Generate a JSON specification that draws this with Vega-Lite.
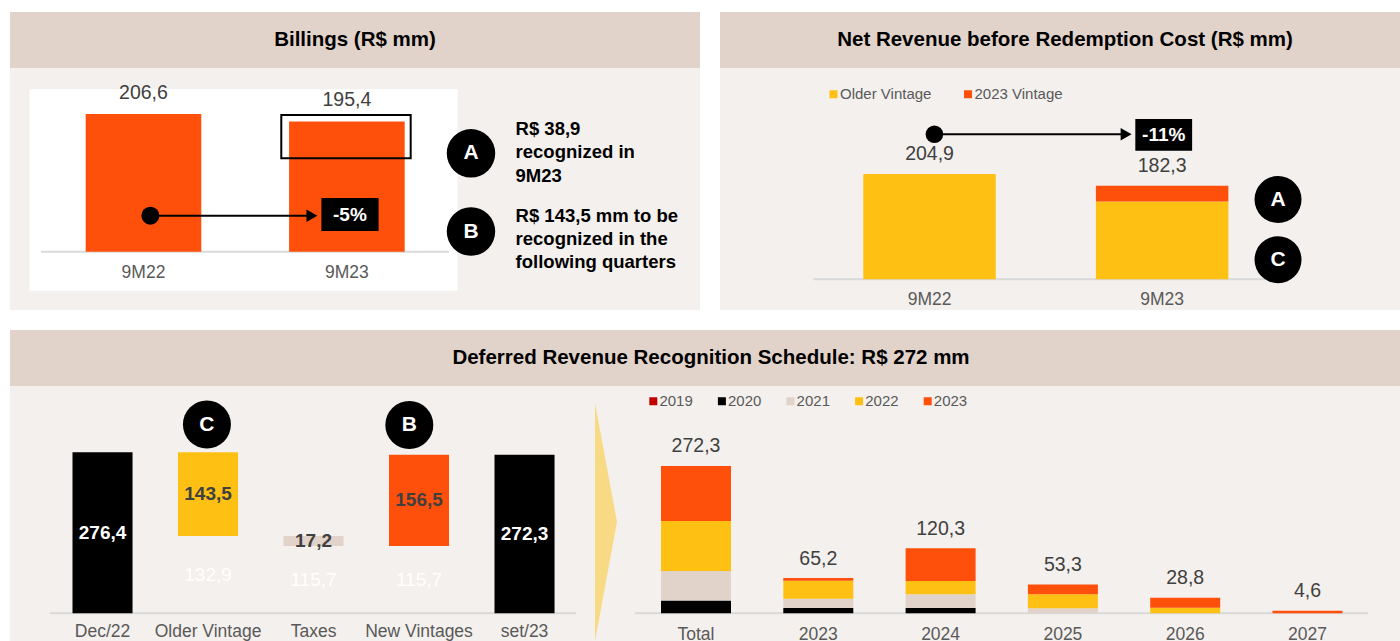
{
 "$schema": "https://vega.github.io/schema/vega-lite/v6.json",
 "background": "#FFFFFF",
 "padding": {"left": 10, "top": 12, "right": 0, "bottom": 0},
 "config": {
  "view": {"stroke": null},
  "font": "Liberation Sans",
  "text": {"font": "Liberation Sans"},
  "legend": {"padding": 0},
  "locale": {"number": {"decimal": ",", "thousands": ".", "grouping": [3], "currency": ["R$", ""]}}
 },
 "datasets": {
  "billings": [{"period": "9M22", "value": 206.6}, {"period": "9M23", "value": 195.4}],
  "netrev": [
   {"period": "9M22", "vintage": "Older Vintage", "value": 204.9},
   {"period": "9M23", "vintage": "Older Vintage", "value": 151.4},
   {"period": "9M23", "vintage": "2023 Vintage", "value": 30.9}
  ],
  "waterfall": [
   {"step": "Dec/22", "part": "bar", "kind": "Balance", "lo": 0, "hi": 276.4, "amount": 276.4},
   {"step": "Older Vintage", "part": "base", "kind": "Base", "lo": 0, "hi": 132.9, "amount": 132.9},
   {"step": "Older Vintage", "part": "bar", "kind": "Older Vintage", "lo": 132.9, "hi": 276.4, "amount": 143.5},
   {"step": "Taxes", "part": "base", "kind": "Base", "lo": 0, "hi": 115.7, "amount": 115.7},
   {"step": "Taxes", "part": "bar", "kind": "Taxes", "lo": 115.7, "hi": 132.9, "amount": 17.2},
   {"step": "New Vintages", "part": "base", "kind": "Base", "lo": 0, "hi": 115.7, "amount": 115.7},
   {"step": "New Vintages", "part": "bar", "kind": "New Vintages", "lo": 115.7, "hi": 272.2, "amount": 156.5},
   {"step": "set/23", "part": "bar", "kind": "Balance", "lo": 0, "hi": 272.3, "amount": 272.3}
  ],
  "schedule": [
   {"col": "Total", "vintage": "2020", "value": 23.5},
   {"col": "Total", "vintage": "2021", "value": 54.7},
   {"col": "Total", "vintage": "2022", "value": 92.4},
   {"col": "Total", "vintage": "2023", "value": 101.7},
   {"col": "2023", "vintage": "2020", "value": 9.8},
   {"col": "2023", "vintage": "2021", "value": 17.0},
   {"col": "2023", "vintage": "2022", "value": 33.4},
   {"col": "2023", "vintage": "2023", "value": 5.0},
   {"col": "2024", "vintage": "2020", "value": 9.8},
   {"col": "2024", "vintage": "2021", "value": 25.3},
   {"col": "2024", "vintage": "2022", "value": 24.8},
   {"col": "2024", "vintage": "2023", "value": 60.4},
   {"col": "2025", "vintage": "2021", "value": 9.5},
   {"col": "2025", "vintage": "2022", "value": 25.5},
   {"col": "2025", "vintage": "2023", "value": 18.3},
   {"col": "2026", "vintage": "2022", "value": 10.1},
   {"col": "2026", "vintage": "2023", "value": 18.7},
   {"col": "2027", "vintage": "2023", "value": 4.6}
  ]
 },
 "spacing": 20,
 "resolve": {"scale": {"color": "independent"}, "legend": {"color": "independent"}},
 "vconcat": [
  {
   "hconcat": [
    {
     "vconcat": [
      {
       "width": 690, "height": 56,
       "view": {"fill": "#E2D3CA", "stroke": null},
       "data": {"values": [{"title": "Billings (R$ mm)"}]},
       "mark": {"type": "text", "fontSize": 20.5, "fontWeight": "bold", "color": "#000000"},
       "encoding": {"text": {"field": "title"}}
      },
      {
       "width": 690, "height": 242,
       "view": {"fill": "#F4F0ED", "stroke": null},
       "data": {"name": "billings"},
       "encoding": {
        "x": {"field": "period", "type": "nominal", "axis": null, "scale": {"domain": ["9M22", "9M23"], "paddingInner": 0.4317, "paddingOuter": 0.912, "align": 0.204}}
       },
       "layer": [
        {
         "data": {"values": [{}]},
         "mark": {"type": "rect", "color": "#FFFFFF", "xOffset": -114, "x2Offset": 110.7},
         "encoding": {"x": {"datum": "9M22", "type": "nominal", "bandPosition": 0.5}, "x2": {"datum": "9M23", "bandPosition": 0.5}, "y": {"datum": 243.6, "type": "quantitative", "axis": null, "scale": {"domain": [-87.4, 275.5], "nice": false, "zero": false}}, "y2": {"datum": -58.5}}
        },
        {
         "data": {"values": [{}]},
         "mark": {"type": "rule", "color": "#D9D9D9", "strokeWidth": 2, "xOffset": -102.5, "x2Offset": 101.8},
         "encoding": {"x": {"datum": "9M22", "type": "nominal", "bandPosition": 0.5}, "x2": {"datum": "9M23", "bandPosition": 0.5}, "y": {"datum": 0, "type": "quantitative"}}
        },
        {"mark": {"type": "bar", "color": "#FE500A"}, "encoding": {"y": {"field": "value", "type": "quantitative"}}},
        {
         "mark": {"type": "text", "dy": -21, "fontSize": 19.5, "color": "#404040"},
         "encoding": {"y": {"field": "value", "type": "quantitative"}, "text": {"field": "value", "type": "quantitative", "format": ".1f"}}
        },
        {
         "mark": {"type": "text", "dy": 21.6, "fontSize": 17.5, "color": "#595959"},
         "encoding": {"y": {"datum": 0, "type": "quantitative"}, "text": {"field": "period"}}
        },
        {
         "data": {"values": [{}]},
         "mark": {"type": "rect", "fillOpacity": 0, "stroke": "#000000", "strokeWidth": 2, "xOffset": -65.6, "x2Offset": 63.8},
         "encoding": {"x": {"datum": "9M23", "type": "nominal", "bandPosition": 0.5}, "x2": {"datum": "9M23", "bandPosition": 0.5}, "y": {"datum": 205, "type": "quantitative"}, "y2": {"datum": 140.1}}
        },
        {
         "data": {"values": [{}]},
         "mark": {"type": "rule", "color": "#000000", "strokeWidth": 2, "xOffset": 6.9, "x2Offset": -33},
         "encoding": {"x": {"datum": "9M22", "type": "nominal", "bandPosition": 0.5}, "x2": {"datum": "9M23", "bandPosition": 0.5}, "y": {"datum": 54, "type": "quantitative"}}
        },
        {
         "data": {"values": [{}]},
         "mark": {"type": "point", "filled": true, "opacity": 1, "color": "#000000", "size": 324, "xOffset": 6.9},
         "encoding": {"x": {"datum": "9M22", "type": "nominal", "bandPosition": 0.5}, "y": {"datum": 54, "type": "quantitative"}}
        },
        {
         "data": {"values": [{}]},
         "mark": {"type": "point", "shape": "triangle-right", "filled": true, "opacity": 1, "color": "#000000", "size": 160, "xOffset": -35},
         "encoding": {"x": {"datum": "9M23", "type": "nominal", "bandPosition": 0.5}, "y": {"datum": 54, "type": "quantitative"}}
        },
        {
         "data": {"values": [{}]},
         "mark": {"type": "rect", "color": "#000000", "xOffset": -25.5, "x2Offset": 31.7},
         "encoding": {"x": {"datum": "9M23", "type": "nominal", "bandPosition": 0.5}, "x2": {"datum": "9M23", "bandPosition": 0.5}, "y": {"datum": 80.5, "type": "quantitative"}, "y2": {"datum": 31}}
        },
        {
         "data": {"values": [{"t": "-5%"}]},
         "mark": {"type": "text", "dx": 3, "fontSize": 19, "fontWeight": "bold", "color": "#FFFFFF"},
         "encoding": {"x": {"datum": "9M23", "type": "nominal"}, "y": {"datum": 55.7, "type": "quantitative"}, "text": {"field": "t"}}
        },
        {
         "data": {"values": [{"t": "A"}]},
         "layer": [
          {"mark": {"type": "point", "filled": true, "opacity": 1, "color": "#000000", "size": 2350, "xOffset": 124.1}},
          {"mark": {"type": "text", "dx": 124.1, "fontSize": 21, "fontWeight": "bold", "color": "#FFFFFF"}, "encoding": {"text": {"field": "t"}}}
         ],
         "encoding": {"x": {"datum": "9M23", "type": "nominal"}, "y": {"datum": 147.6, "type": "quantitative"}}
        },
        {
         "data": {"values": [{"t": "B"}]},
         "layer": [
          {"mark": {"type": "point", "filled": true, "opacity": 1, "color": "#000000", "size": 2350, "xOffset": 124.1}},
          {"mark": {"type": "text", "dx": 124.1, "fontSize": 21, "fontWeight": "bold", "color": "#FFFFFF"}, "encoding": {"text": {"field": "t"}}}
         ],
         "encoding": {"x": {"datum": "9M23", "type": "nominal"}, "y": {"datum": 30.3, "type": "quantitative"}}
        },
        {
         "data": {"values": [{"note": "R$ 38,9\nrecognized in\n9M23"}]},
         "mark": {"type": "text", "align": "left", "dx": 168.7, "fontSize": 18.5, "fontWeight": "bold", "lineHeight": 23.2, "lineBreak": "\n", "color": "#000000"},
         "encoding": {"x": {"datum": "9M23", "type": "nominal"}, "y": {"datum": 183.6, "type": "quantitative"}, "text": {"field": "note"}}
        },
        {
         "data": {"values": [{"note": "R$ 143,5 mm to be\nrecognized in the\nfollowing quarters"}]},
         "mark": {"type": "text", "align": "left", "dx": 168.7, "fontSize": 18.5, "fontWeight": "bold", "lineHeight": 23.2, "lineBreak": "\n", "color": "#000000"},
         "encoding": {"x": {"datum": "9M23", "type": "nominal"}, "y": {"datum": 54, "type": "quantitative"}, "text": {"field": "note"}}
        }
       ]
      }
     ],
     "spacing": 0
    },
    {
     "vconcat": [
      {
       "width": 680, "height": 56,
       "view": {"fill": "#E2D3CA", "stroke": null},
       "data": {"values": [{"title": "Net Revenue before Redemption Cost (R$ mm)"}]},
       "mark": {"type": "text", "fontSize": 20.5, "fontWeight": "bold", "color": "#000000", "dx": 5},
       "encoding": {"text": {"field": "title"}}
      },
      {
       "width": 680, "height": 242,
       "view": {"fill": "#F4F0ED", "stroke": null},
       "data": {"name": "netrev"},
       "encoding": {
        "x": {"field": "period", "type": "nominal", "axis": null, "scale": {"domain": ["9M22", "9M23"], "paddingInner": 0.4304, "paddingOuter": 0.677, "align": 0.455}}
       },
       "layer": [
        {
         "data": {"values": [{}]},
         "mark": {"type": "rule", "color": "#D9D9D9", "strokeWidth": 2, "xOffset": -116.3, "x2Offset": 103.6},
         "encoding": {"x": {"datum": "9M22", "type": "nominal", "bandPosition": 0.5}, "x2": {"datum": "9M23", "bandPosition": 0.5}, "y": {"datum": 0, "type": "quantitative", "axis": null, "scale": {"domain": [-59.7, 411.2], "nice": false, "zero": false}}}
        },
        {
         "mark": {"type": "bar"},
         "encoding": {
          "y": {"field": "value", "type": "quantitative"},
          "color": {"field": "vintage", "type": "nominal",
           "scale": {"domain": ["Older Vintage", "2023 Vintage"], "range": ["#FFC014", "#FE500A"]},
           "legend": {"orient": "none", "legendX": 106, "legendY": 74.5, "direction": "horizontal", "title": null, "symbolType": "square", "symbolSize": 64, "symbolStrokeWidth": 0, "labelFont": "Liberation Sans", "labelFontSize": 15, "labelColor": "#595959", "labelOffset": -1, "columnPadding": 28.5, "padding": 0}},
          "order": {"field": "vintage", "sort": "descending"}
         }
        },
        {
         "transform": [{"aggregate": [{"op": "sum", "field": "value", "as": "total"}], "groupby": ["period"]}],
         "layer": [
          {"mark": {"type": "text", "dy": -20, "fontSize": 19.5, "color": "#404040"}, "encoding": {"y": {"field": "total", "type": "quantitative"}, "text": {"field": "total", "type": "quantitative", "format": ".1f"}}},
          {"mark": {"type": "text", "dy": 20.7, "fontSize": 17.5, "color": "#595959"}, "encoding": {"y": {"datum": 0, "type": "quantitative"}, "text": {"field": "period"}}}
         ]
        },
        {
         "data": {"values": [{}]},
         "mark": {"type": "rule", "color": "#000000", "strokeWidth": 2, "xOffset": 4.9, "x2Offset": -34},
         "encoding": {"x": {"datum": "9M22", "type": "nominal", "bandPosition": 0.5}, "x2": {"datum": "9M23", "bandPosition": 0.5}, "y": {"datum": 282.2, "type": "quantitative"}}
        },
        {
         "data": {"values": [{}]},
         "mark": {"type": "point", "filled": true, "opacity": 1, "color": "#000000", "size": 310, "xOffset": 4.9},
         "encoding": {"x": {"datum": "9M22", "type": "nominal", "bandPosition": 0.5}, "y": {"datum": 282.2, "type": "quantitative"}}
        },
        {
         "data": {"values": [{}]},
         "mark": {"type": "point", "shape": "triangle-right", "filled": true, "opacity": 1, "color": "#000000", "size": 160, "xOffset": -36},
         "encoding": {"x": {"datum": "9M23", "type": "nominal", "bandPosition": 0.5}, "y": {"datum": 282.2, "type": "quantitative"}}
        },
        {
         "data": {"values": [{}]},
         "mark": {"type": "rect", "color": "#000000", "xOffset": -26.8, "x2Offset": 30},
         "encoding": {"x": {"datum": "9M23", "type": "nominal", "bandPosition": 0.5}, "x2": {"datum": "9M23", "bandPosition": 0.5}, "y": {"datum": 311.9, "type": "quantitative"}, "y2": {"datum": 250.2}}
        },
        {
         "data": {"values": [{"t": "-11%"}]},
         "mark": {"type": "text", "dx": 1.6, "fontSize": 19, "fontWeight": "bold", "color": "#FFFFFF"},
         "encoding": {"x": {"datum": "9M23", "type": "nominal"}, "y": {"datum": 281, "type": "quantitative"}, "text": {"field": "t"}}
        },
        {
         "data": {"values": [{"t": "A"}]},
         "layer": [
          {"mark": {"type": "point", "filled": true, "opacity": 1, "color": "#000000", "size": 2209, "xOffset": 115.9}},
          {"mark": {"type": "text", "dx": 115.9, "fontSize": 21, "fontWeight": "bold", "color": "#FFFFFF"}, "encoding": {"text": {"field": "t"}}}
         ],
         "encoding": {"x": {"datum": "9M23", "type": "nominal"}, "y": {"datum": 155.3, "type": "quantitative"}}
        },
        {
         "data": {"values": [{"t": "C"}]},
         "layer": [
          {"mark": {"type": "point", "filled": true, "opacity": 1, "color": "#000000", "size": 2209, "xOffset": 115.9}},
          {"mark": {"type": "text", "dx": 115.9, "fontSize": 21, "fontWeight": "bold", "color": "#FFFFFF"}, "encoding": {"text": {"field": "t"}}}
         ],
         "encoding": {"x": {"datum": "9M23", "type": "nominal"}, "y": {"datum": 38.1, "type": "quantitative"}}
        }
       ]
      }
     ],
     "spacing": 0
    }
   ],
   "spacing": 20,
   "resolve": {"scale": {"color": "independent"}, "legend": {"color": "independent"}}
  },
  {
   "vconcat": [
    {
     "width": 1390, "height": 56,
     "view": {"fill": "#E2D3CA", "stroke": null},
     "data": {"values": [{"title": "Deferred Revenue Recognition  Schedule: R$ 272 mm"}]},
     "mark": {"type": "text", "fontSize": 20.5, "fontWeight": "bold", "color": "#000000", "dx": 6},
     "encoding": {"text": {"field": "title"}}
    },
    {
     "hconcat": [
      {
       "width": 580, "height": 255,
       "view": {"fill": "#F4F0ED", "stroke": null},
       "data": {"name": "waterfall"},
       "encoding": {
        "x": {"field": "step", "type": "nominal", "axis": null, "scale": {"domain": ["Dec/22", "Older Vintage", "Taxes", "New Vintages", "set/23"], "paddingInner": 0.431, "paddingOuter": 0.4643, "align": 0.638}}
       },
       "layer": [
        {
         "data": {"values": [{}]},
         "mark": {"type": "rule", "color": "#D9D9D9", "strokeWidth": 2, "xOffset": -52.7, "x2Offset": 51.4},
         "encoding": {"x": {"datum": "Dec/22", "type": "nominal", "bandPosition": 0.5}, "x2": {"datum": "set/23", "bandPosition": 0.5}, "y": {"datum": 0, "type": "quantitative", "scale": {"domain": [-47.55, 390.2], "nice": false, "zero": false}, "axis": null}}
        },
        {
         "transform": [{"filter": {"field": "part", "equal": "bar"}}],
         "mark": {"type": "bar"},
         "encoding": {
          "y": {"field": "hi", "type": "quantitative"},
          "y2": {"field": "lo"},
          "color": {"field": "kind", "type": "nominal", "legend": null, "scale": {"domain": ["Balance", "Older Vintage", "Taxes", "New Vintages"], "range": ["#000000", "#FFC014", "#E2D3CA", "#FE500A"]}}
         }
        },
        {
         "transform": [
          {"filter": {"field": "part", "equal": "bar"}},
          {"fold": ["lo", "hi"], "as": ["edge", "level"]},
          {"aggregate": [{"op": "mean", "field": "level", "as": "mid"}], "groupby": ["step", "kind", "amount"]}
         ],
         "mark": {"type": "text", "fontSize": 19, "fontWeight": "bold"},
         "encoding": {
          "y": {"field": "mid", "type": "quantitative"},
          "text": {"field": "amount", "type": "quantitative", "format": ".1f"},
          "color": {"condition": {"test": "datum.kind === 'Balance'", "value": "#FFFFFF"}, "value": "#404040"}
         }
        },
        {
         "transform": [
          {"filter": {"field": "part", "equal": "base"}},
          {"fold": ["lo", "hi"], "as": ["edge", "level"]},
          {"aggregate": [{"op": "mean", "field": "level", "as": "mid"}], "groupby": ["step", "amount"]}
         ],
         "mark": {"type": "text", "fontSize": 19, "color": "#FFFFFF"},
         "encoding": {
          "y": {"field": "mid", "type": "quantitative"},
          "text": {"field": "amount", "type": "quantitative", "format": ".1f"}
         }
        },
        {
         "transform": [{"filter": {"field": "part", "equal": "bar"}}],
         "mark": {"type": "text", "dy": 19, "fontSize": 17.5, "color": "#595959"},
         "encoding": {"y": {"datum": 0, "type": "quantitative"}, "text": {"field": "step"}}
        },
        {
         "data": {"values": [{"t": "C"}]},
         "layer": [
          {"mark": {"type": "point", "filled": true, "opacity": 1, "color": "#000000", "size": 2304, "xOffset": -1.1}},
          {"mark": {"type": "text", "dx": -1.1, "fontSize": 21, "fontWeight": "bold", "color": "#FFFFFF"}, "encoding": {"text": {"field": "t"}}}
         ],
         "encoding": {"x": {"datum": "Older Vintage", "type": "nominal"}, "y": {"datum": 324.1, "type": "quantitative"}}
        },
        {
         "data": {"values": [{"t": "B"}]},
         "layer": [
          {"mark": {"type": "point", "filled": true, "opacity": 1, "color": "#000000", "size": 2304, "xOffset": -9.7}},
          {"mark": {"type": "text", "dx": -9.7, "fontSize": 21, "fontWeight": "bold", "color": "#FFFFFF"}, "encoding": {"text": {"field": "t"}}}
         ],
         "encoding": {"x": {"datum": "New Vintages", "type": "nominal"}, "y": {"datum": 323.3, "type": "quantitative"}}
        }
       ]
      },
      {
       "width": 35, "height": 255,
       "view": {"fill": "#F4F0ED", "stroke": null},
       "data": {"values": [{}]},
       "mark": {"type": "point", "shape": "M-0.0924,-1L0.0924,0L-0.0924,1Z", "filled": true, "opacity": 1, "color": "#F8D984", "size": 56644, "xOffset": -1.5, "yOffset": 8.5},
       "encoding": {}
      },
      {
       "width": 775, "height": 255,
       "view": {"fill": "#F4F0ED", "stroke": null},
       "data": {"name": "schedule"},
       "encoding": {
        "x": {"field": "col", "type": "nominal", "axis": null, "scale": {"domain": ["Total", "2023", "2024", "2025", "2026", "2027"], "paddingInner": 0.4276, "paddingOuter": 0.3823, "align": 0.385}}
       },
       "layer": [
        {
         "data": {"values": [{}]},
         "mark": {"type": "rule", "color": "#D9D9D9", "strokeWidth": 2, "xOffset": -61.3, "x2Offset": 60.4},
         "encoding": {"x": {"datum": "Total", "type": "nominal", "bandPosition": 0.5}, "x2": {"datum": "2027", "bandPosition": 0.5}, "y": {"datum": 0, "type": "quantitative", "axis": null, "scale": {"domain": [-51.2, 420.1], "nice": false, "zero": false}}}
        },
        {
         "mark": {"type": "bar"},
         "encoding": {
          "y": {"field": "value", "type": "quantitative"},
          "color": {"field": "vintage", "type": "nominal",
           "scale": {"domain": ["2019", "2020", "2021", "2022", "2023"], "range": ["#C00000", "#000000", "#E2D3CA", "#FFC014", "#FE500A"]},
           "legend": {"orient": "none", "legendX": 20.8, "legendY": 7.5, "direction": "horizontal", "title": null, "symbolType": "square", "symbolSize": 64, "symbolStrokeWidth": 0, "labelFont": "Liberation Sans", "labelFontSize": 15, "labelColor": "#595959", "labelOffset": -1.4, "columnPadding": 21.6, "padding": 0}},
          "order": {"field": "vintage", "sort": "ascending"}
         }
        },
        {
         "transform": [{"aggregate": [{"op": "sum", "field": "value", "as": "total"}], "groupby": ["col"]}],
         "layer": [
          {"mark": {"type": "text", "dy": -19.5, "fontSize": 19.5, "color": "#404040"}, "encoding": {"y": {"field": "total", "type": "quantitative"}, "text": {"field": "total", "type": "quantitative", "format": ".1f"}}},
          {"mark": {"type": "text", "dy": 21.7, "fontSize": 17.5, "color": "#595959"}, "encoding": {"y": {"datum": 0, "type": "quantitative"}, "text": {"field": "col"}}}
         ]
        }
       ]
      }
     ],
     "spacing": 0,
     "resolve": {"scale": {"color": "independent"}, "legend": {"color": "independent"}}
    }
   ],
   "spacing": 0,
   "resolve": {"scale": {"color": "independent"}, "legend": {"color": "independent"}}
  }
 ]
}
